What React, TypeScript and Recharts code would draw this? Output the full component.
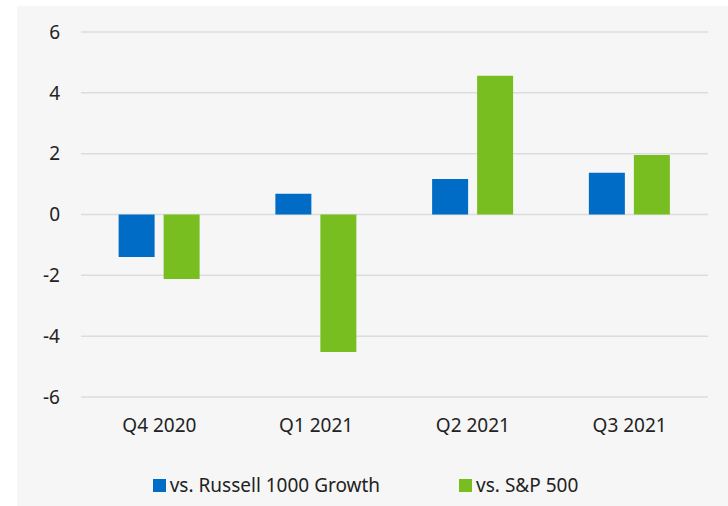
import { BarChart, Bar, XAxis, YAxis, CartesianGrid, Legend } from "recharts";

const quarters = ["Q4 2020", "Q1 2021", "Q2 2021", "Q3 2021"];
const vsRussell = [-1.4, 0.68, 1.17, 1.37];
const vsSP = [-2.12, -4.52, 4.56, 1.96];
const seriesNames = ["vs. Russell 1000 Growth", "vs. S&P 500"];
const yTicks = [-6, -4, -2, 0, 2, 4, 6];

const BLUE = "#006cc6";
const GREEN = "#78be20";
const FONT = "'Noto Sans', sans-serif";

const data = quarters.map((q, i) => ({
  quarter: q,
  russell: vsRussell[i],
  sp: vsSP[i],
}));

// legend drawn as two swatches, placed a little left of centre like the original
const LegendContent = () => (
  <div
    style={{
      display: "flex",
      justifyContent: "center",
      alignItems: "flex-end",
      height: 61,
      paddingLeft: 6,
      boxSizing: "border-box",
      paddingBottom: 0,
      fontFamily: FONT,
      fontSize: 19,
      color: "#222",
    }}
  >
    {[BLUE, GREEN].map((c, i) => (
      <div
        key={c}
        style={{ display: "flex", alignItems: "center", marginLeft: i ? 79 : 0 }}
      >
        <span style={{ width: 13, height: 13, background: c, marginRight: 4 }} />
        <span>{seriesNames[i]}</span>
      </div>
    ))}
  </div>
);

export default function App() {
  return (
    <div style={{ position: "fixed", top: 0, left: 0, width: 728, height: 506, background: "#fff" }}>
      <div style={{ position: "absolute", left: 17, top: 6, width: 711, height: 500, background: "#f6f6f6" }}>
        <BarChart
          width={711}
          height={500}
          data={data}
          margin={{ top: 26, right: 20, left: 0, bottom: 8 }}
          barCategoryGap="24%"
          barGap={9}
        >
          <CartesianGrid vertical={false} stroke="#dcdcdc" strokeWidth={1.5} />
          <XAxis
            dataKey="quarter"
            axisLine={false}
            tickLine={false}
            height={40}
            tickMargin={16}
            tick={{ fill: "#222", fontSize: 19, fontFamily: FONT }}
          />
          <YAxis
            domain={[-6, 6]}
            ticks={yTicks}
            width={64}
            axisLine={false}
            tickLine={false}
            tickSize={0}
            tickMargin={21}
            tick={{ fill: "#222", fontSize: 19, fontFamily: FONT }}
          />
          <Legend verticalAlign="bottom" height={61} content={<LegendContent />} />
          <Bar dataKey="russell" name={seriesNames[0]} fill={BLUE} isAnimationActive={false} />
          <Bar dataKey="sp" name={seriesNames[1]} fill={GREEN} isAnimationActive={false} />
        </BarChart>
      </div>
    </div>
  );
}
